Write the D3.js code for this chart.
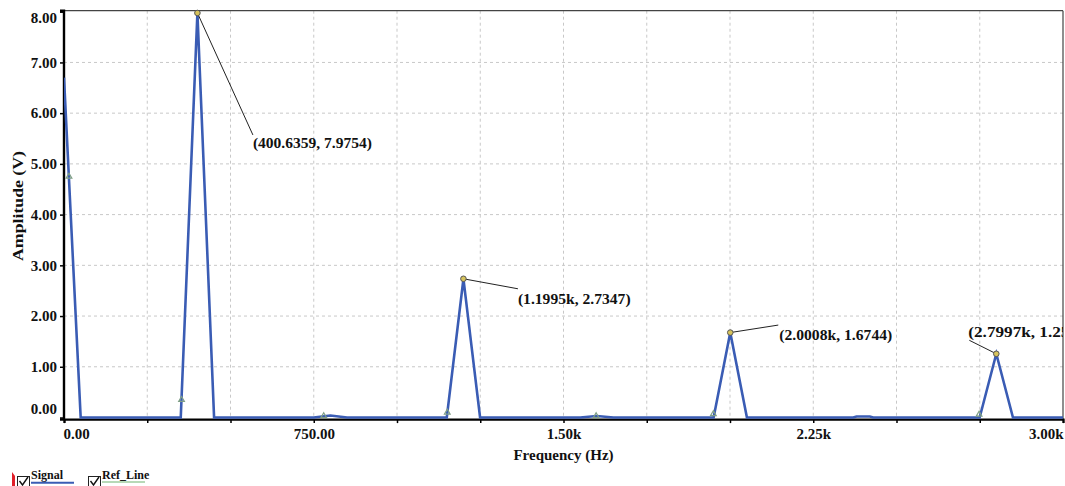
<!DOCTYPE html>
<html>
<head>
<meta charset="utf-8">
<script src="https://cdn.jsdelivr.net/npm/d3@7/dist/d3.min.js"></script>
<style>
  html, body { margin: 0; padding: 0; background: #ffffff; }
  svg { display: block; }
  text { font-family: "Liberation Serif", "Times New Roman", serif; font-weight: bold; fill: #111; }
</style>
</head>
<body>
<svg id="chart" width="1065" height="486"></svg>
<script>
// ---- data ----
const freqHz = [0, 50.1, 350.6, 400.6359, 450.7, 750, 800, 850, 1149.5, 1199.5, 1249.5, 1550, 1600, 1650,
                1950.8, 2000.8, 2050.8, 2370, 2380, 2420, 2430, 2749.7, 2799.7, 2849.7, 3000];
const amplitudeV = [6.70, 0, 0, 7.9754, 0, 0, 0.04, 0, 0, 2.7347, 0, 0, 0.03, 0,
                    0, 1.6744, 0, 0, 0.02, 0.02, 0, 0, 1.2561, 0, 0];
const markerFreq = [15, 353, 780, 1151, 1598, 1950, 2748];
const markerAmp  = [4.75, 0.35, 0.03, 0.10, 0.03, 0.07, 0.06];
const peakFreq  = [400.6359, 1199.5, 2000.8, 2799.7];
const peakAmp   = [7.9754, 2.7347, 1.6744, 1.2561];
const peakLabel = ["(400.6359, 7.9754)", "(1.1995k, 2.7347)", "(2.0008k, 1.6744)", "(2.7997k, 1.2561)"];
const xTicks = [0, 250, 500, 750, 1000, 1250, 1500, 1750, 2000, 2250, 2500, 2750, 3000];
const xTickLabels = ["0.00", "", "", "750.00", "", "", "1.50k", "", "", "2.25k", "", "", "3.00k"];
const yTicks = [0, 1, 2, 3, 4, 5, 6, 7, 8];
const yTickLabels = ["0.00", "1.00", "2.00", "3.00", "4.00", "5.00", "6.00", "7.00", "8.00"];
const legendNames = ["Signal", "Ref_Line"];

// ---- layout ----
const L = 64, R = 1063, T = 10.7, B = 417.5;
const svg = d3.select("#chart");
const x = d3.scaleLinear().domain([0, 3000]).range([L, R]);
const y = d3.scaleLinear().domain([0, 8.02]).range([B, T]);

svg.append("defs").append("clipPath").attr("id", "plotclip")
  .append("rect").attr("x", L).attr("y", T - 4).attr("width", R - L).attr("height", B - T + 8);

// grid
const grid = svg.append("g");
grid.selectAll("line.vg").data(xTicks.slice(1, -1)).enter().append("line")
  .attr("x1", d => x(d)).attr("x2", d => x(d)).attr("y1", T).attr("y2", B + 1)
  .attr("stroke", "#c8c8c8").attr("stroke-width", 1).attr("stroke-dasharray", "3,3");
grid.selectAll("line.hg").data(yTicks.slice(1, -1)).enter().append("line")
  .attr("x1", L).attr("x2", R).attr("y1", d => y(d)).attr("y2", d => y(d))
  .attr("stroke", "#c8c8c8").attr("stroke-width", 1).attr("stroke-dasharray", "3,3");

// frame top/right
svg.append("line").attr("x1", L).attr("x2", R).attr("y1", T).attr("y2", T).attr("stroke", "#444").attr("stroke-width", 1.2);
svg.append("line").attr("x1", R).attr("x2", R).attr("y1", T).attr("y2", B + 2).attr("stroke", "#444").attr("stroke-width", 1.2);

// axes
const xAxis = d3.axisBottom(x).tickValues(xTicks).tickSize(4).tickFormat((d, i) => xTickLabels[i]);
const gx = svg.append("g").attr("transform", `translate(0,${B + 1.6})`).call(xAxis);
gx.select(".domain").attr("stroke", "#000").attr("stroke-width", 2.2);
gx.selectAll(".tick line").attr("stroke", "#000").attr("stroke-width", 1.5);
gx.selectAll(".tick text").attr("font-size", 15).attr("font-family", "Liberation Serif").attr("font-weight", "bold")
  .attr("fill", "#111").attr("dy", 0).attr("y", 20)
  .attr("text-anchor", (d, i) => i === 0 ? "start" : (i === xTicks.length - 1 ? "end" : "middle"))
  .attr("x", (d, i) => i === 0 ? -1 : 0);

const yAxis = d3.axisLeft(y).tickValues(yTicks).tickSize(4).tickFormat((d, i) => yTickLabels[i]);
const gy = svg.append("g").attr("transform", `translate(${L},0)`).call(yAxis);
gy.select(".domain").attr("stroke", "#000").attr("stroke-width", 2.4).attr("d", `M-4,${T}H0V${B + 2}H-4`);
gy.selectAll(".tick line").attr("stroke", "#000").attr("stroke-width", 1.5);
gy.selectAll(".tick text").attr("font-size", 15).attr("font-family", "Liberation Serif").attr("font-weight", "bold")
  .attr("fill", "#111").attr("x", -7)
  .attr("dy", (d, i) => i === 0 ? "-0.25em" : (i === yTicks.length - 1 ? "0.75em" : "0.32em"));

// axis titles
svg.append("text").attr("x", x(1500)).attr("y", 460).attr("text-anchor", "middle").attr("font-size", 15).text("Frequency (Hz)");
svg.append("text").attr("transform", "translate(23,206) rotate(-90)").attr("text-anchor", "middle")
  .attr("font-size", 15).attr("textLength", 110).attr("lengthAdjust", "spacingAndGlyphs").text("Amplitude (V)");

// signal line
const plot = svg.append("g").attr("clip-path", "url(#plotclip)");
const pts = freqHz.map((f, i) => [f, amplitudeV[i]]);
plot.append("path").datum(pts)
  .attr("fill", "none").attr("stroke", "#3a5cb4").attr("stroke-width", 2.6).attr("stroke-linejoin", "miter")
  .attr("d", d3.line().x(d => x(d[0])).y(d => y(d[1])));

// markers
const tri = d3.symbol().type(d3.symbolTriangle).size(14);
plot.selectAll("path.mk").data(markerFreq).enter().append("path")
  .attr("transform", (d, i) => `translate(${x(d)},${y(markerAmp[i])})`)
  .attr("d", tri).attr("fill", "none").attr("stroke", "#7f9f86").attr("stroke-width", 1.2);

// peak annotations
const annOffset = [[55.5, 122], [54.5, 10], [48, -7.5], [-27, -13.5]];
const annText = [[55.5, 135.5], [54.5, 25], [49, 7.5], [-28, -17]];
const annLen = [119, 112.7, 113, 124];
peakFreq.forEach((f, i) => {
  const px = x(f), py = y(peakAmp[i]);
  plot.append("line").attr("x1", px).attr("y1", py)
    .attr("x2", px + annOffset[i][0]).attr("y2", py + annOffset[i][1])
    .attr("stroke", "#222").attr("stroke-width", 1);
  plot.append("circle").attr("cx", px).attr("cy", py).attr("r", 2.8)
    .attr("fill", "#d6c35c").attr("stroke", "#555").attr("stroke-width", 1);
  plot.append("text").attr("x", px + annText[i][0]).attr("y", py + annText[i][1])
    .attr("font-size", 15).attr("textLength", annLen[i]).attr("lengthAdjust", "spacingAndGlyphs")
    .text(peakLabel[i]);
});

// legend
const lg = svg.append("g");
lg.append("path").attr("d", "M12,472 L15,476 L15,486 L12,486 Z").attr("fill", "#e0202a");
const legColors = ["#3a5cb4", "#9fcc9f"];
const legX = [17, 88];
const legLineW = [43, 43];
legendNames.forEach((n, i) => {
  const bx = legX[i];
  lg.append("rect").attr("x", bx + 0.5).attr("y", 476.5).attr("width", 12).attr("height", 11)
    .attr("fill", "#fff").attr("stroke", "#222").attr("stroke-width", 1);
  lg.append("path").attr("d", `M${bx + 2.5},${481} L${bx + 5.5},${485} L${bx + 11},${477}`)
    .attr("fill", "none").attr("stroke", "#111").attr("stroke-width", 1.4);
  lg.append("text").attr("x", bx + 14).attr("y", 478.5).attr("font-size", 12).text(n);
  lg.append("line").attr("x1", bx + 14).attr("x2", bx + 14 + legLineW[i])
    .attr("y1", i === 0 ? 482.8 : 482).attr("y2", i === 0 ? 482.8 : 482)
    .attr("stroke", legColors[i]).attr("stroke-width", i === 0 ? 2 : 1.3);
});
</script>
</body>
</html>
